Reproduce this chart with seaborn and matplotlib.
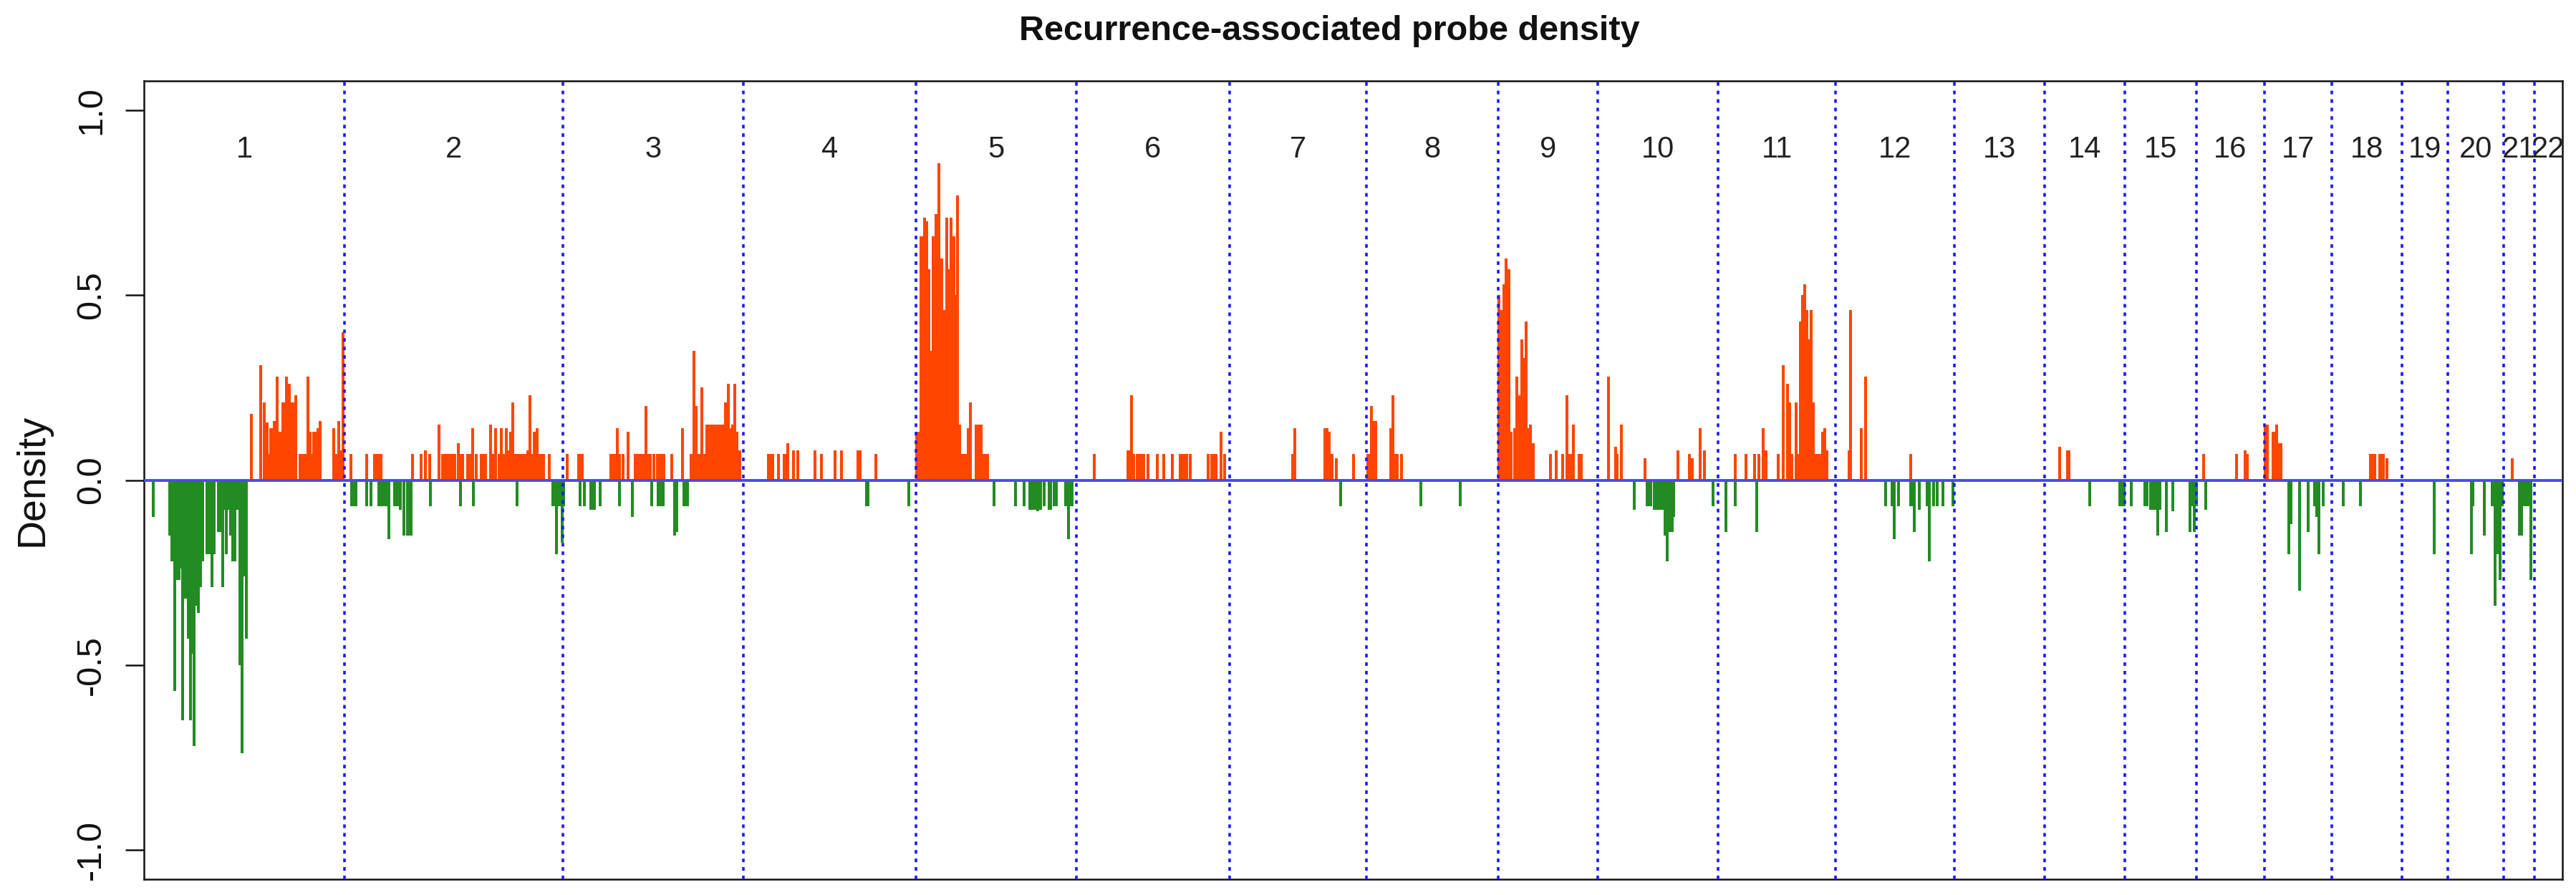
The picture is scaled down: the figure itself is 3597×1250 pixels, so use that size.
import numpy as np
import pandas as pd
import matplotlib
matplotlib.use("Agg")
import matplotlib.pyplot as plt
import seaborn as sns

# ---------------- data ----------------
# genome position in 0.8 Mb bins along concatenated autosomes
chrom_names = [str(i) for i in range(1, 23)]
chrom_ends = [280, 585, 837, 1078, 1302, 1516, 1707, 1891, 2030, 2198, 2362,
              2528, 2654, 2766, 2866, 2961, 3055, 3153, 3217, 3295, 3338, 3377]

gain_pos = [
    # chr1
    150, 163, 168, 170, 172, 174, 177, 180, 182, 186, 189, 192, 194, 197, 199,
    201, 203, 206, 209, 212, 218, 221, 224, 227, 229, 232, 234, 237, 240, 243,
    246, 265, 268, 272, 274, 276, 278,
    # chr2
    289, 311, 322, 325, 328, 331, 375, 387, 393, 399, 412, 417, 420, 423, 426,
    429, 432, 434, 439, 442, 445, 452, 455, 459, 464, 471, 474, 477, 484, 487,
    491, 496, 499, 502, 506, 509, 512, 515, 518, 521, 524, 527, 530, 533, 536,
    539, 542, 545, 549, 552, 555, 558, 566,
    # chr3
    591, 607, 610, 612, 652, 655, 658, 661, 664, 669, 676, 686, 689, 692, 695,
    698, 701, 704, 707, 712, 717, 720, 723, 726, 737, 752, 764, 766, 768, 771,
    774, 777, 779, 782, 786, 789, 792, 795, 798, 801, 804, 807, 809, 812, 816,
    819, 822, 825, 828, 832,
    # chr4
    872, 875, 878, 886, 894, 896, 899, 907, 913, 937, 946, 965, 974, 997, 1000,
    1022,
    # chr5
    1079, 1082, 1085, 1088, 1090, 1093, 1096, 1099, 1102, 1106, 1110, 1114,
    1117, 1121, 1124, 1127, 1131, 1133, 1136, 1139, 1142, 1145, 1148, 1151,
    1154, 1162, 1166, 1169, 1172, 1175, 1178,
    # chr6
    1327, 1374, 1377, 1379, 1382, 1387, 1390, 1393, 1396, 1402, 1415, 1424,
    1436, 1447, 1450, 1453, 1456, 1461, 1486, 1491, 1494, 1497, 1504, 1509,
    # chr7
    1604, 1607, 1649, 1652, 1655, 1659, 1665, 1689,
    # chr8
    1709, 1712, 1714, 1717, 1720, 1741, 1744, 1747, 1750, 1756,
    # chr9
    1892, 1896, 1899, 1902, 1906, 1909, 1914, 1917, 1921, 1924, 1927, 1930,
    1933, 1936, 1940, 1964, 1972, 1981, 1987, 1990, 1993, 1996, 2004, 2007,
    # chr10
    2045, 2055, 2057, 2063, 2096, 2142, 2158, 2162, 2173, 2179,
    # chr11
    2222, 2237, 2249, 2255, 2261, 2265, 2282, 2289, 2295, 2298, 2301, 2307,
    2310, 2313, 2316, 2319, 2322, 2325, 2328, 2331, 2334, 2337, 2340, 2344,
    2347, 2350,
    # chr12
    2381, 2383, 2398, 2404, 2467,
    # chr14
    2675, 2686, 2688,
    # chr16
    2876, 2922, 2934, 2937,
    # chr17
    2962, 2965, 2973, 2976, 2978, 2981, 2984,
    # chr18
    3109, 3112, 3115, 3122, 3125, 3127, 3132,
    # chr21
    3307,
]
gain_val = [
    # chr1
    0.18, 0.31, 0.21, 0.155, 0.155, 0.07, 0.14, 0.14, 0.16, 0.28, 0.13, 0.13,
    0.21, 0.21, 0.28, 0.21, 0.26, 0.21, 0.21, 0.23, 0.07, 0.07, 0.07, 0.07,
    0.28, 0.13, 0.07, 0.13, 0.13, 0.14, 0.16, 0.14, 0.07, 0.16, 0.08, 0.08,
    0.40,
    # chr2
    0.07, 0.07, 0.07, 0.07, 0.07, 0.07, 0.07, 0.07, 0.08, 0.07, 0.15, 0.07,
    0.07, 0.07, 0.07, 0.07, 0.07, 0.07, 0.10, 0.07, 0.07, 0.07, 0.07, 0.14,
    0.07, 0.07, 0.07, 0.07, 0.15, 0.07, 0.14, 0.07, 0.14, 0.07, 0.14, 0.08,
    0.13, 0.21, 0.07, 0.07, 0.07, 0.07, 0.07, 0.07, 0.08, 0.23, 0.07, 0.13,
    0.14, 0.07, 0.07, 0.07, 0.07,
    # chr3
    0.07, 0.07, 0.07, 0.07, 0.07, 0.07, 0.07, 0.14, 0.07, 0.07, 0.13, 0.07,
    0.07, 0.07, 0.07, 0.07, 0.20, 0.07, 0.07, 0.07, 0.07, 0.07, 0.07, 0.07,
    0.07, 0.14, 0.07, 0.07, 0.35, 0.20, 0.07, 0.07, 0.25, 0.07, 0.15, 0.15,
    0.15, 0.15, 0.15, 0.15, 0.15, 0.15, 0.15, 0.21, 0.26, 0.14, 0.15, 0.26,
    0.13, 0.08,
    # chr4
    0.07, 0.07, 0.07, 0.07, 0.07, 0.07, 0.10, 0.08, 0.08, 0.08, 0.07, 0.08,
    0.08, 0.08, 0.08, 0.07,
    # chr5
    0.13, 0.13, 0.66, 0.66, 0.71, 0.70, 0.57, 0.35, 0.66, 0.72, 0.857, 0.60,
    0.46, 0.71, 0.57, 0.71, 0.66, 0.50, 0.77, 0.15, 0.07, 0.07, 0.07, 0.14,
    0.21, 0.15, 0.15, 0.15, 0.07, 0.07, 0.07,
    # chr6
    0.07, 0.08, 0.08, 0.23, 0.07, 0.07, 0.07, 0.07, 0.07, 0.07, 0.07, 0.07,
    0.07, 0.07, 0.07, 0.07, 0.07, 0.07, 0.07, 0.07, 0.07, 0.07, 0.13, 0.07,
    # chr7
    0.07, 0.14, 0.14, 0.14, 0.13, 0.07, 0.06, 0.07,
    # chr8
    0.07, 0.07, 0.20, 0.16, 0.16, 0.14, 0.23, 0.07, 0.07, 0.07,
    # chr9
    0.50, 0.46, 0.53, 0.60, 0.57, 0.13, 0.14, 0.28, 0.23, 0.38, 0.33, 0.43,
    0.14, 0.15, 0.10, 0.07, 0.08, 0.07, 0.23, 0.07, 0.07, 0.15, 0.07, 0.07,
    # chr10
    0.28, 0.09, 0.07, 0.15, 0.06, 0.08, 0.07, 0.06, 0.14, 0.08,
    # chr11
    0.07, 0.07, 0.07, 0.07, 0.14, 0.08, 0.07, 0.31, 0.26, 0.21, 0.07, 0.21,
    0.07, 0.43, 0.50, 0.53, 0.46, 0.38, 0.46, 0.21, 0.07, 0.07, 0.07, 0.13,
    0.14, 0.08,
    # chr12
    0.08, 0.46, 0.14, 0.28, 0.07,
    # chr14
    0.09, 0.08, 0.08,
    # chr16
    0.07, 0.07, 0.08, 0.07,
    # chr17
    0.15, 0.15, 0.13, 0.13, 0.15, 0.10, 0.10,
    # chr18
    0.07, 0.07, 0.07, 0.07, 0.07, 0.07, 0.06,
    # chr21
    0.06,
]

loss_pos = [
    # chr1
    13, 36, 39, 43, 46, 49, 52, 54, 57, 59, 62, 65, 68, 70, 73, 76, 79, 82,
    88, 91, 95, 98, 104, 107, 110, 112, 115, 118, 121, 124, 127, 130, 132,
    134, 137, 140, 143,
    # chr2
    290, 293, 296, 311, 317, 328, 331, 334, 337, 340, 342, 350, 353, 355, 358,
    363, 368, 371, 373, 400, 442, 460, 521, 571, 574, 576, 579, 582, 584, 586,
    # chr3
    609, 615, 624, 627, 629, 637, 664, 682, 709, 718, 722, 725, 741, 744, 754,
    757, 759,
    # chr4
    1009, 1011, 1068,
    # chr5
    1187, 1217, 1229, 1237, 1240, 1243, 1246, 1248, 1250, 1252, 1257, 1264,
    1266, 1271, 1274, 1287, 1289, 1291, 1294, 1296,
    # chr7, chr8
    1671, 1783, 1838,
    # chr10
    2081, 2099, 2102, 2104, 2109, 2112, 2115, 2118, 2121, 2124, 2127, 2131,
    2134, 2136, 2191,
    # chr11
    2209, 2222, 2252,
    # chr12
    2432, 2441, 2444, 2450, 2467, 2470, 2472, 2479, 2490, 2493, 2499, 2504,
    2512, 2526,
    # chr14
    2717,
    # chr15
    2759, 2762, 2765, 2775, 2794, 2797, 2802, 2805, 2808, 2812, 2815, 2824,
    2833, 2857, 2860, 2863, 2866,
    # chr16
    2879,
    # chr17
    2995, 2998, 3010, 3022, 3031, 3034, 3037, 3043,
    # chr18, chr19
    3071, 3095, 3198,
    # chr20
    3250, 3252, 3268, 3279, 3281, 3283, 3285, 3287, 3290, 3293,
    # chr21
    3317, 3320, 3322, 3325, 3328, 3331, 3333,
]
loss_val = [
    # chr1
    -0.10, -0.15, -0.22, -0.57, -0.27, -0.27, -0.24, -0.65, -0.32, -0.32,
    -0.43, -0.65, -0.47, -0.72, -0.34, -0.36, -0.29, -0.22, -0.20, -0.20,
    -0.29, -0.20, -0.14, -0.14, -0.29, -0.08, -0.20, -0.08, -0.15, -0.22,
    -0.22, -0.08, -0.08, -0.50, -0.74, -0.26, -0.43,
    # chr2
    -0.07, -0.07, -0.07, -0.07, -0.07, -0.07, -0.07, -0.07, -0.07, -0.07,
    -0.16, -0.07, -0.07, -0.07, -0.08, -0.15, -0.15, -0.15, -0.15, -0.07,
    -0.07, -0.07, -0.07, -0.07, -0.07, -0.20, -0.07, -0.07, -0.17, -0.07,
    # chr3
    -0.07, -0.07, -0.08, -0.08, -0.08, -0.07, -0.07, -0.10, -0.07, -0.07,
    -0.07, -0.07, -0.15, -0.14, -0.07, -0.07, -0.07,
    # chr4
    -0.07, -0.07, -0.07,
    # chr5
    -0.07, -0.07, -0.07, -0.08, -0.08, -0.08, -0.08, -0.085, -0.08, -0.08,
    -0.07, -0.08, -0.08, -0.07, -0.07, -0.07, -0.07, -0.16, -0.07, -0.07,
    # chr7, chr8
    -0.07, -0.07, -0.07,
    # chr10
    -0.08, -0.07, -0.07, -0.07, -0.08, -0.08, -0.08, -0.08, -0.08, -0.15,
    -0.22, -0.14, -0.14, -0.10, -0.07,
    # chr11
    -0.14, -0.07, -0.14,
    # chr12
    -0.07, -0.07, -0.16, -0.07, -0.07, -0.07, -0.14, -0.08, -0.07, -0.22,
    -0.07, -0.07, -0.07, -0.07,
    # chr14
    -0.07,
    # chr15
    -0.07, -0.07, -0.07, -0.07, -0.07, -0.07, -0.08, -0.08, -0.08, -0.15,
    -0.08, -0.14, -0.085, -0.14, -0.07, -0.14, -0.07,
    # chr16
    -0.08,
    # chr17
    -0.20, -0.12, -0.30, -0.14, -0.07, -0.10, -0.20, -0.07,
    # chr18, chr19
    -0.07, -0.07, -0.20,
    # chr20
    -0.20, -0.07, -0.15, -0.07, -0.07, -0.34, -0.20, -0.20, -0.27, -0.07,
    # chr21
    -0.15, -0.15, -0.07, -0.07, -0.07, -0.07, -0.27,
]

y_ticks = [-1.0, -0.5, 0.0, 0.5, 1.0]
y_tick_labels = ["-1.0", "-0.5", "0.0", "0.5", "1.0"]
title_text = "Recurrence-associated probe density"
y_label = "Density"

# ---------------- style ----------------
sns.set_theme(style="white")
plt.rcParams["font.family"] = ["Liberation Sans", "DejaVu Sans"]

W, H, DPI = 3598, 1250, 200
fig = plt.figure(figsize=(W / DPI, H / DPI), dpi=DPI)
ax = fig.add_axes([201 / W, 1 - 1228 / H, (3578 - 201) / W, (1228 - 113) / H])

RED = "#FF4500"
GREEN = "#228B22"
BAR_W = 3.8

gain_df = pd.DataFrame({"pos": gain_pos, "density": gain_val})
loss_df = pd.DataFrame({"pos": loss_pos, "density": loss_val})

for df, col in ((gain_df, RED), (loss_df, GREEN)):
    u = np.sort(df["pos"].unique())
    mind = np.min(np.diff(u))
    sns.barplot(data=df, x="pos", y="density", native_scale=True, orient="x",
                width=BAR_W / mind, color=col, saturation=1, errorbar=None,
                linewidth=0, ax=ax, zorder=2)

ax.set_xlim(0, chrom_ends[-1])
ax.set_ylim(-1.08, 1.08)

# chromosome separators and labels
starts = [0] + chrom_ends[:-1]
for e in chrom_ends[:-1]:
    ax.axvline(e, color="#1a1aff", lw=1.3, ls=(0, (1.4, 1.9)), zorder=3)
for name, s, e in zip(chrom_names, starts, chrom_ends):
    ax.text((s + e) / 2, 0.872, name, ha="center", va="baseline",
            fontsize=15, color="#222222", zorder=4)

ax.axhline(0, color="#4848ff", lw=1.4, zorder=3)

# axes styling
ax.set_xticks([])
ax.set_xlabel("")
ax.set_yticks(y_ticks)
ax.set_yticklabels(y_tick_labels, rotation=90, va="center", fontsize=17.5)
ax.tick_params(axis="y", direction="out", length=9.4, width=0.9, pad=9,
               left=True, colors="#111111")
ax.set_ylabel(y_label, fontsize=20, color="#111111")
ax.yaxis.set_label_coords(-0.0382, 0.5)
for sp in ax.spines.values():
    sp.set_visible(True)
    sp.set_color("#111111")
    sp.set_linewidth(0.9)

fig.text(1856 / W, 1 - 44 / H, title_text, ha="center", va="center",
         fontsize=17.5, fontweight="bold", color="#111111")

fig.savefig("out.png", dpi=DPI)
